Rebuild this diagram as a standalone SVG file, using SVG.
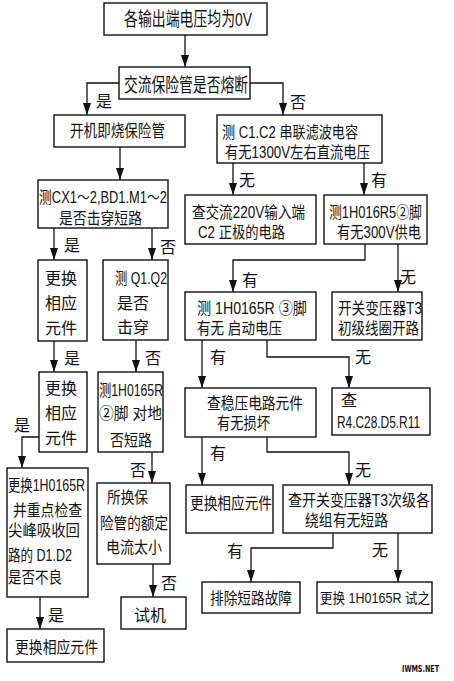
<svg xmlns="http://www.w3.org/2000/svg" width="454" height="681" viewBox="0 0 454 681">
<defs>
<marker id="ah" markerUnits="userSpaceOnUse" markerWidth="12" markerHeight="8" refX="12" refY="4" orient="auto">
<path d="M0,0 L12,4 L0,8 z" fill="#111"/>
</marker>
<style>
.box{fill:#fff;stroke:#111;stroke-width:1.4}
.c{fill:none;stroke:#111;stroke-width:1.3;marker-end:url(#ah)}
text{font-family:"Liberation Sans","Noto Sans CJK SC",sans-serif;font-size:16px;fill:#111}
.big{font-size:19px}
.m{font-size:17px}
.s{font-size:14px}
.lb{text-anchor:middle}
</style>
</defs>
<rect width="454" height="681" fill="#fff"/>
<g id="connectors">
<path class="c" d="M185,35 V67"/>
<path class="c" d="M119,83 H87 V115"/>
<path class="c" d="M250,83 H283 V115"/>
<path class="c" d="M120,147 V180"/>
<path class="c" d="M54,228 V260"/>
<path class="c" d="M152,228 V260"/>
<path class="c" d="M233,163 V195"/>
<path class="c" d="M364,163 V195"/>
<path class="c" d="M54,341 V372"/>
<path class="c" d="M136,340 V372"/>
<path class="c" d="M365,244 V260 H233 V292"/>
<path class="c" d="M398,244 V292"/>
<path class="c" d="M202,340 V388"/>
<path class="c" d="M267,340 V357 H349 V388"/>
<path class="c" d="M39,437 H22 V468"/>
<path class="c" d="M152,452 V483"/>
<path class="c" d="M202,437 V485"/>
<path class="c" d="M267,437 V452 H349 V485"/>
<path class="c" d="M40,597 V629"/>
<path class="c" d="M153,564 V597"/>
<path class="c" d="M333,533 V548 H251 V582"/>
<path class="c" d="M398,533 V582"/>
<text class="lb" x="104" y="107">是</text>
<text class="lb" x="298" y="108">否</text>
<text class="lb" x="72" y="251">是</text>
<text class="lb" x="168" y="253">否</text>
<text class="lb" x="247" y="186">无</text>
<text class="lb" x="379" y="186">有</text>
<text class="lb" x="250" y="286">有</text>
<text class="lb" x="408" y="283">无</text>
<text class="lb" x="72" y="364">是</text>
<text class="lb" x="153" y="364">否</text>
<text class="lb" x="218" y="363">有</text>
<text class="lb" x="363" y="363">无</text>
<text class="lb" x="22" y="431">是</text>
<text class="lb" x="138" y="476">否</text>
<text class="lb" x="218" y="459">有</text>
<text class="lb" x="363" y="476">无</text>
<text class="lb" x="56" y="621">是</text>
<text class="lb" x="169" y="589">否</text>
<text class="lb" x="235" y="557">有</text>
<text class="lb" x="380" y="556">无</text>
</g>
<g id="n1"><rect class="box" x="104" y="3" width="163" height="32"/><text class="big" x="124" y="26" textLength="128" lengthAdjust="spacingAndGlyphs">各输出端电压均为0V</text></g>
<g id="n2"><rect class="box" x="119" y="67" width="131" height="32"/><text class="big" x="124" y="92" textLength="124" lengthAdjust="spacingAndGlyphs">交流保险管是否熔断</text></g>
<g id="n3"><rect class="box" x="54" y="115" width="131" height="32"/><text class="m" x="70" y="137" textLength="95" lengthAdjust="spacingAndGlyphs">开机即烧保险管</text></g>
<g id="n4"><rect class="box" x="217" y="115" width="165" height="48"/><text x="222" y="138" textLength="136" lengthAdjust="spacingAndGlyphs">测 C1.C2 串联滤波电容</text><text x="225" y="158" textLength="145" lengthAdjust="spacingAndGlyphs">有无1300V左右直流电压</text></g>
<g id="n5"><rect class="box" x="38" y="180" width="130" height="48"/><text x="39" y="203" textLength="128" lengthAdjust="spacingAndGlyphs">测CX1～2,BD1.M1～2</text><text x="59" y="224" textLength="83" lengthAdjust="spacingAndGlyphs">是否击穿短路</text></g>
<g id="n6"><rect class="box" x="185" y="195" width="131" height="49"/><text x="192" y="218" textLength="113" lengthAdjust="spacingAndGlyphs">查交流220V输入端</text><text x="198" y="238" textLength="87" lengthAdjust="spacingAndGlyphs">C2 正极的电路</text></g>
<g id="n7"><rect class="box" x="324" y="195" width="103" height="49"/><text x="329" y="218" textLength="93" lengthAdjust="spacingAndGlyphs">测1H016R5②脚</text><text x="337" y="238" textLength="84" lengthAdjust="spacingAndGlyphs">有无300V供电</text></g>
<g id="n8"><rect class="box" x="38" y="260" width="49" height="81"/><text class="lb" x="61" y="284">更换</text><text class="lb" x="61" y="309">相应</text><text class="lb" x="61" y="334">元件</text></g>
<g id="n9"><rect class="box" x="103" y="260" width="65" height="80"/><text x="115" y="284" textLength="52" lengthAdjust="spacingAndGlyphs">测 Q1.Q2</text><text class="lb" x="133" y="309">是否</text><text class="lb" x="133" y="333">击穿</text></g>
<g id="n10"><rect class="box" x="185" y="292" width="131" height="48"/><text x="197" y="314" textLength="110" lengthAdjust="spacingAndGlyphs">测 1H0165R ③脚</text><text x="197" y="334" textLength="85" lengthAdjust="spacingAndGlyphs">有无 启动电压</text></g>
<g id="n11"><rect class="box" x="332" y="292" width="90" height="48"/><text x="338" y="314" textLength="84" lengthAdjust="spacingAndGlyphs">开关变压器T3</text><text x="338" y="334" textLength="81" lengthAdjust="spacingAndGlyphs">初级线圈开路</text></g>
<g id="n12"><rect class="box" x="39" y="372" width="48" height="80"/><text class="lb" x="61" y="394">更换</text><text class="lb" x="61" y="419">相应</text><text class="lb" x="61" y="444">元件</text></g>
<g id="n13"><rect class="box" x="98" y="372" width="65" height="80"/><text x="99" y="396" textLength="64" lengthAdjust="spacingAndGlyphs">测1H0165R</text><text x="99" y="419" textLength="63" lengthAdjust="spacingAndGlyphs">②脚 对地</text><text x="110" y="446" textLength="42" lengthAdjust="spacingAndGlyphs">否短路</text></g>
<g id="n14"><rect class="box" x="185" y="388" width="131" height="49"/><text x="207" y="409" textLength="96" lengthAdjust="spacingAndGlyphs">查稳压电路元件</text><text x="217" y="429" textLength="53" lengthAdjust="spacingAndGlyphs">有无损坏</text></g>
<g id="n15"><rect class="box" x="332" y="388" width="98" height="47"/><text class="lb" x="349" y="406">查</text><text x="337" y="428" textLength="83" lengthAdjust="spacingAndGlyphs">R4.C28.D5.R11</text></g>
<g id="n16"><rect class="box" x="7" y="468" width="81" height="129"/><text x="8" y="491" textLength="77" lengthAdjust="spacingAndGlyphs">更换1H0165R</text><text x="13" y="516" textLength="69" lengthAdjust="spacingAndGlyphs">并重点检查</text><text x="8" y="536" textLength="72" lengthAdjust="spacingAndGlyphs">尖峰吸收回</text><text x="8" y="561" textLength="64" lengthAdjust="spacingAndGlyphs">路的 D1.D2</text><text x="8" y="583" textLength="54" lengthAdjust="spacingAndGlyphs">是否不良</text></g>
<g id="n17"><rect class="box" x="97" y="483" width="73" height="81"/><text x="107" y="503" textLength="41" lengthAdjust="spacingAndGlyphs">所换保</text><text x="100" y="529" textLength="68" lengthAdjust="spacingAndGlyphs">险管的额定</text><text x="106" y="553" textLength="56" lengthAdjust="spacingAndGlyphs">电流太小</text></g>
<g id="n18"><rect class="box" x="186" y="485" width="87" height="48"/><text x="190" y="509" textLength="82" lengthAdjust="spacingAndGlyphs">更换相应元件</text></g>
<g id="n19"><rect class="box" x="283" y="485" width="149" height="48"/><text x="288" y="506" textLength="142" lengthAdjust="spacingAndGlyphs">查开关变压器T3次级各</text><text x="305" y="526" textLength="83" lengthAdjust="spacingAndGlyphs">绕组有无短路</text></g>
<g id="n20"><rect class="box" x="7" y="629" width="97" height="33"/><text x="15" y="653" textLength="83" lengthAdjust="spacingAndGlyphs">更换相应元件</text></g>
<g id="n21"><rect class="box" x="121" y="597" width="65" height="32"/><text class="lb" x="150" y="621">试机</text></g>
<g id="n22"><rect class="box" x="202" y="582" width="98" height="31"/><text x="210" y="604" textLength="82" lengthAdjust="spacingAndGlyphs">排除短路故障</text></g>
<g id="n23"><rect class="box" x="317" y="582" width="115" height="31"/><text class="s" x="320" y="603" textLength="110" lengthAdjust="spacingAndGlyphs">更换 1H0165R 试之</text></g>
<text x="402" y="672" style="font-family:'DejaVu Sans',sans-serif;font-size:9px;font-weight:bold" textLength="37" lengthAdjust="spacingAndGlyphs">IWMS.NET</text>
</svg>
